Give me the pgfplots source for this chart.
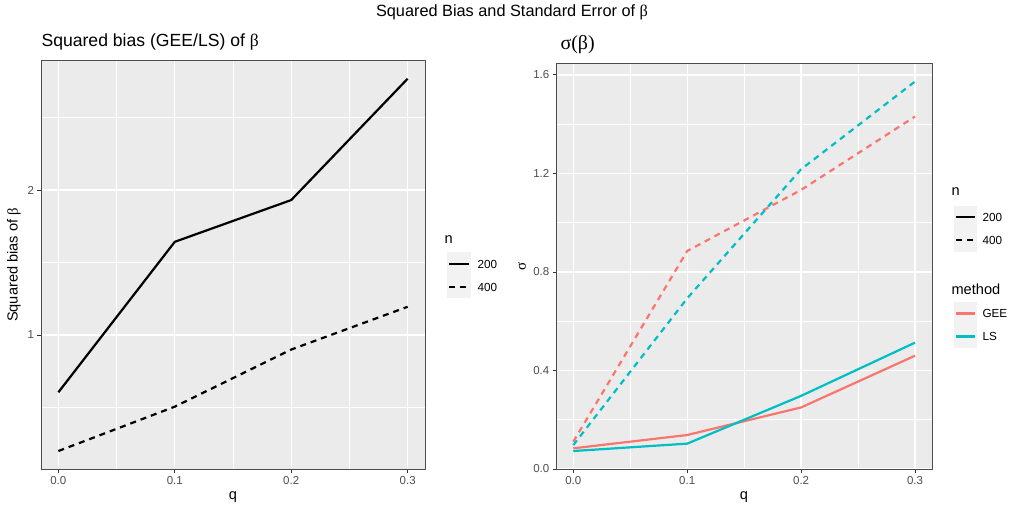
\documentclass[border=0pt]{standalone}
\usepackage{fontspec}
\setmainfont{Liberation Sans}
\newfontfamily\sym{Liberation Serif}
\usepackage{pgfplots}
\pgfplotsset{compat=1.18}
\definecolor{gee}{HTML}{F8766D}
\definecolor{ls}{HTML}{00BFC4}
\definecolor{panel}{HTML}{EBEBEB}
\definecolor{keybg}{HTML}{F2F2F2}
\definecolor{tickc}{HTML}{4D4D4D}
\pgfplotsset{gg/.style={
  scale only axis, anchor=south west,
  axis background/.style={fill=panel},
  grid=both,
  major grid style={white,line width=1.4pt},
  minor grid style={white,line width=0.7pt},
  axis line style={draw=black!70,line width=0.9pt},
  tick align=outside, major tick length=3.5pt, minor tick length=0pt,
  tick style={black!80,line width=0.8pt},
  xtick pos=bottom, ytick pos=left,
  ticklabel style={font=\fontsize{11.5}{13}\selectfont, text=tickc},
  /pgf/number format/assume math mode=true,
  xtick={0,0.1,0.2,0.3}, xticklabels={0.0,0.1,0.2,0.3},
  minor xtick={0.05,0.15,0.25},
  xmin=-0.0149, xmax=0.3149,
  xticklabel style={yshift=0pt},
  yticklabel style={xshift=0pt},
}}
\begin{document}
\begin{tikzpicture}[x=1pt,y=1pt]
\path[use as bounding box] (0,0) rectangle (1024,-512);
% main title
\node[font=\fontsize{16.3}{18}\selectfont] at (512,-12) {Squared Bias and Standard Error of {\sym β}};
% left panel
\node[anchor=west,font=\fontsize{17.6}{20}\selectfont] at (38,-42) {Squared bias (GEE/LS) of {\sym β}};
\begin{axis}[gg, at={(41pt,-469pt)}, width=384pt, height=409pt,
  ymin=0.076, ymax=2.897, ytick={1,2}, minor ytick={0.5,1.5,2.5}]
\addplot[black, line width=2.2pt] coordinates {(0,0.605)(0.1,1.643)(0.2,1.931)(0.3,2.768)};
\addplot[black, line width=2.2pt, dash pattern=on 6pt off 5pt] coordinates {(0,0.2)(0.1,0.506)(0.2,0.90)(0.3,1.195)};
\end{axis}
\node[font=\fontsize{14.6}{16}\selectfont] at (233,-497) {q};
\node[rotate=90,font=\fontsize{14.6}{16}\selectfont] at (14,-265) {Squared bias of {\sym β}};
% left legend
\node[anchor=west,font=\fontsize{14.6}{16}\selectfont] at (441,-240) {n};
\fill[keybg] (447,-252) rectangle (471,-298);
\draw[black,line width=2.2pt] (449,-264) -- (469,-264);
\draw[black,line width=2.2pt,dash pattern=on 6pt off 5pt] (449,-287) -- (469,-287);
\node[anchor=west,font=\fontsize{11.7}{13}\selectfont] at (474,-264) {200};
\node[anchor=west,font=\fontsize{11.7}{13}\selectfont] at (474,-287) {400};
% right panel
\node[anchor=west,font=\fontsize{20}{22}\selectfont\sym] at (557,-45) {σ(β)};
\begin{axis}[gg, at={(556.3pt,-469pt)}, width=375.7pt, height=405.7pt,
  ymin=0, ymax=1.647, ytick={0,0.4,0.8,1.2,1.6}, yticklabels={0.0,0.4,0.8,1.2,1.6},
  minor ytick={0.2,0.6,1.0,1.4}]
\addplot[gee, line width=2.2pt, dash pattern=on 6pt off 5pt] coordinates {(0,0.111)(0.1,0.885)(0.2,1.133)(0.3,1.431)};
\addplot[ls, line width=2.2pt, dash pattern=on 6pt off 5pt] coordinates {(0,0.097)(0.1,0.693)(0.2,1.217)(0.3,1.573)};
\addplot[gee, line width=2.2pt] coordinates {(0,0.084)(0.1,0.138)(0.2,0.25)(0.3,0.46)};
\addplot[ls, line width=2.2pt] coordinates {(0,0.073)(0.1,0.103)(0.2,0.297)(0.3,0.513)};
\end{axis}
\node[font=\fontsize{14.6}{16}\selectfont] at (744,-497) {q};
\node[rotate=90,font=\fontsize{15}{16}\selectfont\sym] at (522,-266) {σ};
% right legend
\node[anchor=west,font=\fontsize{14.6}{16}\selectfont] at (948,-192) {n};
\fill[keybg] (954,-205.7) rectangle (977,-251.7);
\draw[black,line width=2.2pt] (956,-217) -- (975,-217);
\draw[black,line width=2.2pt,dash pattern=on 6pt off 5pt] (956,-240) -- (975,-240);
\node[anchor=west,font=\fontsize{11.7}{13}\selectfont] at (979,-217) {200};
\node[anchor=west,font=\fontsize{11.7}{13}\selectfont] at (979,-240) {400};
\node[anchor=west,font=\fontsize{14.6}{16}\selectfont] at (948,-289) {method};
\fill[keybg] (954,-302.3) rectangle (977,-347.7);
\draw[gee,line width=2.2pt] (956,-313.5) -- (975,-313.5);
\draw[ls,line width=2.2pt] (956,-336.5) -- (975,-336.5);
\node[anchor=west,font=\fontsize{11.7}{13}\selectfont] at (979,-313.5) {GEE};
\node[anchor=west,font=\fontsize{11.7}{13}\selectfont] at (979,-336.5) {LS};
\end{tikzpicture}
\end{document}
